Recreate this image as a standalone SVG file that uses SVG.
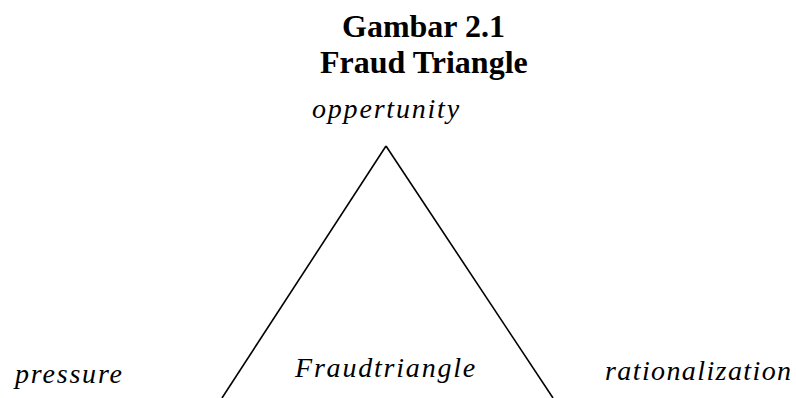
<svg xmlns="http://www.w3.org/2000/svg" width="796" height="398" viewBox="0 0 796 398">
<style>
.t{font-family:"Liberation Serif","Times New Roman",serif;fill:#000}
.b{font-weight:bold;font-size:32px}
.i{font-style:italic;font-size:28px;letter-spacing:1.8px}
.ln{stroke:#000;stroke-width:1.6;fill:none}
</style>
<rect width="796" height="398" fill="#fff"/>
<g id="title">
<text class="t b" x="342" y="37">Gambar 2.1</text>
<text class="t b" x="320" y="73">Fraud Triangle</text>
</g>
<g id="connectors">
<line class="ln" x1="386" y1="146" x2="222" y2="398"/>
<line class="ln" x1="386" y1="146" x2="553" y2="398"/>
</g>
<g id="opportunity"><text class="t i" x="312" y="118">oppertunity</text></g>
<g id="pressure"><text class="t i" x="15" y="383">pressure</text></g>
<g id="fraudtriangle"><text class="t i" x="295" y="377">Fraudtriangle</text></g>
<g id="rationalization"><text class="t i" x="605" y="380" style="letter-spacing:1.4px">rationalization</text></g>
</svg>
